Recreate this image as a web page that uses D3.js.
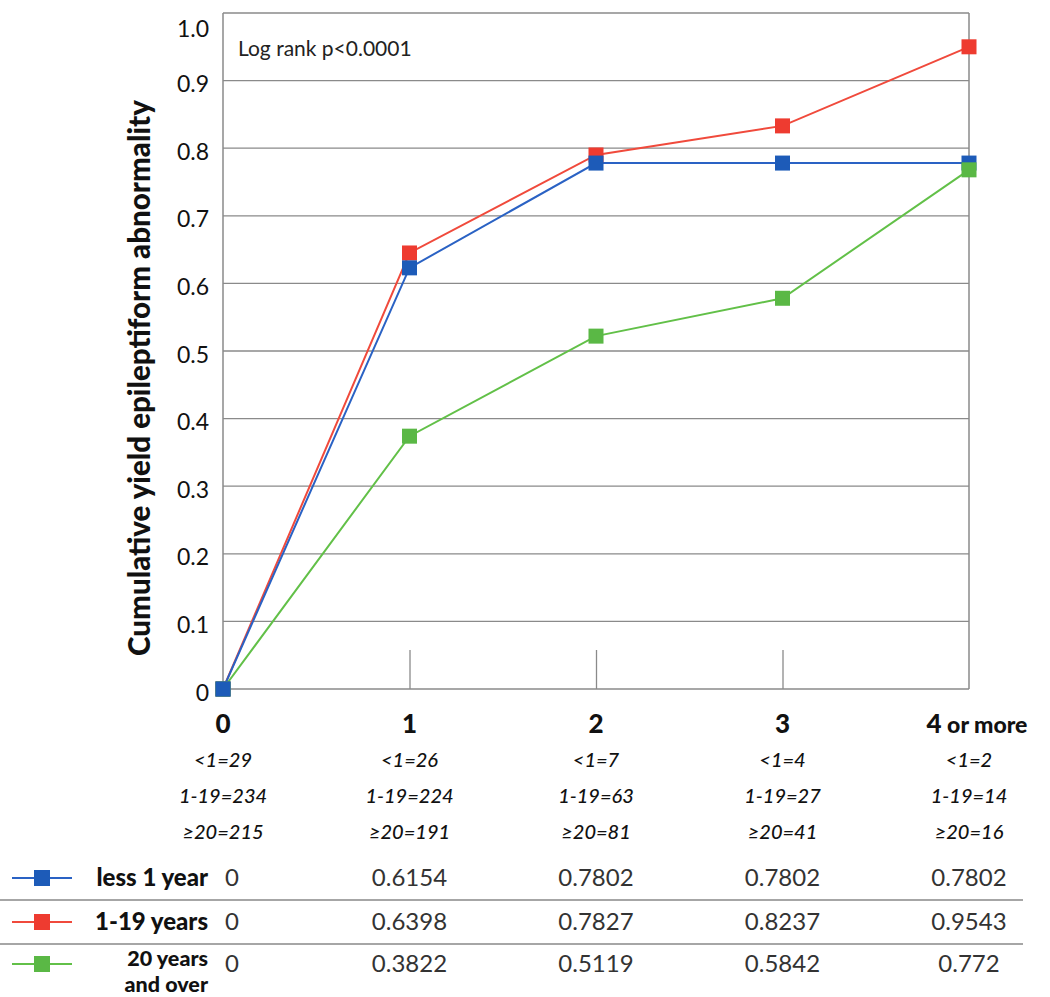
<!DOCTYPE html>
<html><head><meta charset="utf-8">
<script src="https://cdn.jsdelivr.net/npm/d3@7"></script>
<style>
html,body{margin:0;padding:0;background:#fff;}
svg{display:block;font-family:Lato,"Open Sans",sans-serif;}
</style></head>
<body>
<svg id="chart" width="1050" height="997"></svg>
<script>
const xCats = [0, 1, 2, 3, 4];
const xLabels = ["0", "1", "2", "3", "4"];
const seriesNames = ["less 1 year", "1-19 years", "20 years and over"];
// values printed in the table
const less1 = [0, 0.6154, 0.7802, 0.7802, 0.7802];
const y1to19 = [0, 0.6398, 0.7827, 0.8237, 0.9543];
const y20plus = [0, 0.3822, 0.5119, 0.5842, 0.772];
// marker positions as drawn in the plot
const less1Plot = [0, 0.623, 0.778, 0.778, 0.778];
const y1to19Plot = [0, 0.645, 0.790, 0.833, 0.950];
const y20plusPlot = [0, 0.374, 0.522, 0.578, 0.768];
const yTicks = [0, 0.1, 0.2, 0.3, 0.4, 0.5, 0.6, 0.7, 0.8, 0.9, 1.0];
const yTickLabels = ["0", "0.1", "0.2", "0.3", "0.4", "0.5", "0.6", "0.7", "0.8", "0.9", "1.0"];
const nLess1 = ["<1=29", "<1=26", "<1=7", "<1=4", "<1=2"];
const n1to19 = ["1-19=234", "1-19=224", "1-19=63", "1-19=27", "1-19=14"];
const n20 = ["≥20=215", "≥20=191", "≥20=81", "≥20=41", "≥20=16"];
const yTitle = "Cumulative yield epileptiform abnormality";
const annotation = "Log rank p<0.0001";

const colors = ["#1d5bb8", "#ee3b30", "#5ab845"];
const lineColors = ["#2a62c4", "#f04a3c", "#62c048"];
const seriesData = [less1, y1to19, y20plus];
const plotData = [less1Plot, y1to19Plot, y20plusPlot];

(function () {
const svg = d3.select("#chart");
const pL = 223, pR = 969, pT = 13, pB = 689;
const x = d3.scaleLinear().domain([0, 4]).range([pL, pR]);
const y = d3.scaleLinear().domain([0, 1]).range([pB, pT]);
const grid = "#8a8a8a";

// gridlines
svg.append("g").selectAll("line").data(yTicks.slice(1)).join("line")
  .attr("x1", pL).attr("x2", pR)
  .attr("y1", d => y(d)).attr("y2", d => y(d))
  .attr("stroke", grid).attr("stroke-width", 1.3);

// plot frame
svg.append("line").attr("x1", pL).attr("x2", pL).attr("y1", pT).attr("y2", pB).attr("stroke", grid).attr("stroke-width", 1.5);
svg.append("line").attr("x1", pR).attr("x2", pR).attr("y1", pT).attr("y2", pB).attr("stroke", grid).attr("stroke-width", 1.5);

// bottom axis with inner ticks
const xAxis = d3.axisBottom(x).tickValues([1, 2, 3]).tickSize(-39).tickFormat("");
const gx = svg.append("g").attr("transform", `translate(0,${pB})`).call(xAxis);
gx.select(".domain").attr("stroke", grid).attr("stroke-width", 1.5).attr("d", `M${pL},0H${pR}`);
gx.selectAll(".tick line").attr("stroke", grid).attr("stroke-width", 1.3);

// y axis labels
const yAxis = d3.axisLeft(y).tickValues(yTicks).tickSize(0).tickPadding(14)
  .tickFormat((d, i) => yTickLabels[i]);
const gy = svg.append("g").attr("transform", `translate(${pL},0)`).call(yAxis);
gy.select(".domain").remove();
gy.selectAll("text").attr("font-family", "Lato, sans-serif").attr("font-size", 23).attr("fill", "#111")
  .attr("dy", d => d === 1 ? "1.0em" : "0.48em");

// y title
svg.append("text")
  .attr("transform", `translate(150,378) rotate(-90)`)
  .attr("text-anchor", "middle")
  .attr("font-size", 29.5).attr("font-weight", 900).attr("fill", "#111")
  .text(yTitle);

// annotation
svg.append("text").attr("x", pL + 15).attr("y", 56)
  .attr("font-size", 21).attr("fill", "#222").text(annotation);

// series lines
const line = d3.line().x((d, i) => x(xCats[i])).y(d => y(d));
const drawOrder = [1, 0, 2];
drawOrder.forEach(s => {
  svg.append("path").datum(plotData[s]).attr("d", line)
    .attr("fill", "none").attr("stroke", lineColors[s]).attr("stroke-width", 2);
});
const ms = 15;
drawOrder.forEach(s => {
  svg.append("g").selectAll("rect").data(plotData[s]).join("rect")
    .attr("x", (d, i) => x(xCats[i]) - ms / 2)
    .attr("y", d => y(d) - ms / 2)
    .attr("width", ms).attr("height", ms)
    .attr("fill", colors[s]);
});
// blue marker drawn on top at origin
svg.append("rect").attr("x", x(0) - ms / 2).attr("y", y(less1Plot[0]) - ms / 2)
  .attr("width", ms).attr("height", ms).attr("fill", colors[0]);

// x category labels
const xl = svg.append("g");
xCats.forEach((c, i) => {
  const t = xl.append("text").attr("x", x(c) + (i === 4 ? 8 : 0)).attr("y", 733)
    .attr("text-anchor", "middle").attr("font-weight", 900).attr("fill", "#111");
  t.append("tspan").attr("font-size", 26).text(xLabels[i]);
  if (i === 4) t.append("tspan").attr("font-size", 23).text(" or more");
});

// n rows
[nLess1, n1to19, n20].forEach((row, r) => {
  svg.append("g").selectAll("text").data(row).join("text")
    .attr("x", (d, i) => x(xCats[i]))
    .attr("y", 767 + r * 36)
    .attr("text-anchor", "middle")
    .attr("font-size", 20).attr("font-style", "italic").attr("font-weight", 500).attr("fill", "#111")
    .text(d => d);
});

// table
const rowY = [878, 922, 964];
svg.append("line").attr("x1", 0).attr("x2", 1023).attr("y1", 900).attr("y2", 900).attr("stroke", "#888").attr("stroke-width", 1.5);
svg.append("line").attr("x1", 0).attr("x2", 1023).attr("y1", 944).attr("y2", 944).attr("stroke", "#888").attr("stroke-width", 1.5);

seriesData.forEach((vals, s) => {
  const cy = rowY[s];
  svg.append("line").attr("x1", 12).attr("x2", 72).attr("y1", cy).attr("y2", cy)
    .attr("stroke", lineColors[s]).attr("stroke-width", 2);
  svg.append("rect").attr("x", 34).attr("y", cy - 8).attr("width", 16).attr("height", 16).attr("fill", colors[s]);
  if (s === 2) {
    svg.append("text").attr("x", 208).attr("y", 966).attr("text-anchor", "end")
      .attr("font-size", 21.5).attr("font-weight", 900).attr("fill", "#111").text("20 years");
    svg.append("text").attr("x", 208).attr("y", 992).attr("text-anchor", "end")
      .attr("font-size", 21.5).attr("font-weight", 900).attr("fill", "#111").text("and over");
  } else {
    svg.append("text").attr("x", 208).attr("y", cy + 8).attr("text-anchor", "end")
      .attr("font-size", 24).attr("font-weight", 900).attr("fill", "#111").text(seriesNames[s]);
  }
  svg.append("g").selectAll("text").data(vals).join("text")
    .attr("x", (d, i) => i === 0 ? x(0) + 9 : x(xCats[i]))
    .attr("y", cy + 8)
    .attr("text-anchor", "middle")
    .attr("font-size", 24).attr("fill", "#333")
    .text(d => String(d));
});
})();
</script>
</body></html>
